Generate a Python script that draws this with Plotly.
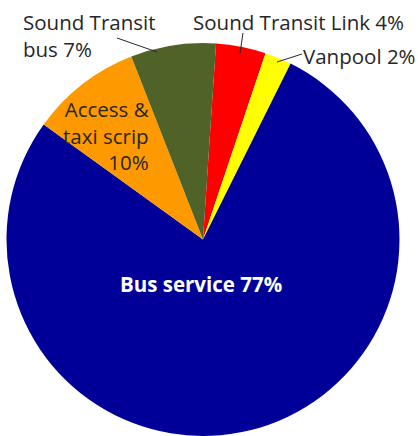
import plotly.graph_objects as go

W, H = 418, 436

# Data (clockwise from the top, starting with Sound Transit Link)
categories = ["Sound Transit Link", "Vanpool", "Bus service", "Access & taxi scrip", "Sound Transit bus"]
shares = [4.1, 2.2, 77.6, 9.1, 7.0]
shown_pct = ["4%", "2%", "77%", "10%", "7%"]
colors = ["#FF0000", "#FFFF00", "#000099", "#FF9900", "#4F6228"]

FONT = "Open Sans"
TXT = "#262626"
FS = 20.5


def px(x):
    return x / W


def py(y):
    return 1 - y / H


fig = go.Figure(go.Pie(
    labels=categories,
    values=shares,
    sort=False,
    direction="clockwise",
    rotation=3.8,
    marker=dict(colors=colors, line=dict(width=0)),
    textinfo="none",
    hoverinfo="label+percent",
    domain=dict(x=[px(6), px(400)], y=[0, py(43)]),
    showlegend=False,
))

ann = []
# Outside labels
ann.append(dict(x=px(191), y=py(22), text=f"{categories[0]} {shown_pct[0]}", xanchor="left", yanchor="middle"))
ann.append(dict(x=px(301), y=py(56), text=f"{categories[1]} {shown_pct[1]}", xanchor="left", yanchor="middle"))
ann.append(dict(x=px(21), y=py(36), text=f"Sound Transit<br>bus {shown_pct[4]}", xanchor="left", yanchor="middle", align="left"))
# Inside orange label
ann.append(dict(x=px(151), y=py(135), text=f"Access &<br>taxi scrip<br>{shown_pct[3]}",
                xanchor="right", yanchor="middle", align="right"))
for a in ann:
    a.update(xref="paper", yref="paper", showarrow=False, font=dict(family=FONT, size=FS, color=TXT))
# Bus service label
ann.append(dict(x=px(201), y=py(284), xref="paper", yref="paper", showarrow=False,
                text=f"<b>{categories[2]} {shown_pct[2]}</b>", xanchor="center", yanchor="middle",
                font=dict(family=FONT, size=FS, color="white")))

leaders = [((117, 38), (157, 52)), ((243, 33), (240, 53)), ((302, 54), (277, 62))]
shapes = [dict(type="line", xref="paper", yref="paper", x0=px(a[0]), y0=py(a[1]), x1=px(b[0]), y1=py(b[1]),
               line=dict(color=TXT, width=1)) for a, b in leaders]

fig.update_layout(
    width=W, height=H,
    margin=dict(l=0, r=0, t=0, b=0),
    paper_bgcolor="white", plot_bgcolor="white",
    annotations=ann, shapes=shapes,
)

fig.write_html("out.html")
